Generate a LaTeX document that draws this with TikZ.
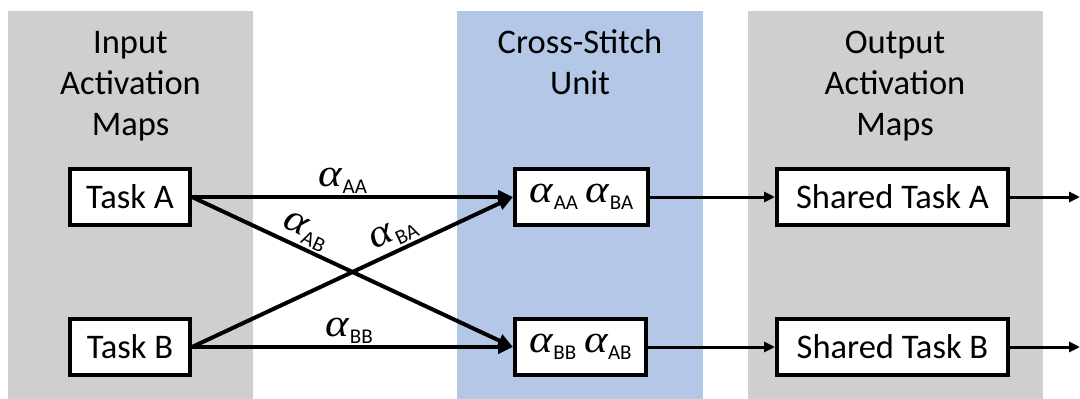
\documentclass[tikz,border=0pt]{standalone}
\usepackage{fontspec}
\setmainfont{Carlito}
\newfontfamily\grk{Liberation Serif}
\usetikzlibrary{arrows.meta}

\definecolor{panelgray}{HTML}{D0CECE}
\definecolor{panelblue}{HTML}{B4C7E7}

% weight alpha with an upright subscript
\newcommand\wt[1]{\mbox{\scalebox{1.15}[1]{\grk\itshape\fontsize{39}{39}\selectfont α}\kern0.5pt\raisebox{-7pt}{\fontsize{21}{21}\selectfont #1}}}
% fixed first-line height so header tops are predictable
\newcommand\hstrut{\rule{0pt}{27pt}}

\tikzset{
  header/.style={align=center, inner sep=0pt, anchor=north,
    font=\fontsize{34.5}{41}\selectfont},
  taskbox/.style={draw, fill=white, line width=4pt, inner sep=0pt,
    minimum height=56pt, font=\fontsize{34.5}{41}\selectfont},
  wlabel/.style={inner sep=2pt},
  thick arrow/.style={line width=4pt, -{Triangle[length=15pt,width=13pt]}},
  thin arrow/.style={line width=3pt, -{Triangle[length=11pt,width=10pt]}},
}

\begin{document}
\begin{tikzpicture}[x=1pt, y=-1pt]
  \useasboundingbox (0,0) rectangle (1080,399);

  % background panels
  \fill[panelgray] (8,11) rectangle (253,399);
  \fill[panelblue] (457,11) rectangle (703,399);
  \fill[panelgray] (748,11) rectangle (1043,399);

  % panel headings
  \node[header] (hIn)  at (130.5,26) {\hstrut Input\\Activation\\Maps};
  \node[header] (hCS)  at (580,26)   {\hstrut Cross-Stitch\\Unit};
  \node[header] (hOut) at (895,26)   {\hstrut Output\\Activation\\Maps};

  % input activation maps
  \node[taskbox, minimum width=120pt] (tA) at (130,197) {Task A};
  \node[taskbox, minimum width=120pt] (tB) at (130,347) {Task B};

  % cross-stitch unit
  \node[taskbox, minimum width=133pt] (cA) at (581.5,197) {\wt{AA}\ \wt{BA}};
  \node[taskbox, minimum width=131pt] (cB) at (580.5,347) {\wt{BB}\ \wt{AB}};

  % output activation maps
  \node[taskbox, minimum width=231pt] (sA) at (892.5,197) {Shared Task A};
  \node[taskbox, minimum width=231pt] (sB) at (892.5,347) {Shared Task B};

  \coordinate (oA) at (1080,197);
  \coordinate (oB) at (1080,347);

  % weighted connections into the cross-stitch unit
  \draw[thick arrow] (tA.east) -- node[wlabel, pos=0.47, above] {\wt{AA}} (cA.west);
  \draw[thick arrow] (tA.east) -- node[wlabel, pos=0.33, above, sloped] {\wt{AB}} (cB.west);
  \draw[thick arrow] (tB.east) -- node[wlabel, pos=0.65, above, sloped] {\wt{BA}} (cA.west);
  \draw[thick arrow] (tB.east) -- node[wlabel, pos=0.49, above] {\wt{BB}} (cB.west);

  % outputs
  \draw[thin arrow] (cA.east) -- (sA.west);
  \draw[thin arrow] (cB.east) -- (sB.west);
  \draw[thin arrow] (sA.east) -- (oA);
  \draw[thin arrow] (sB.east) -- (oB);
\end{tikzpicture}
\end{document}
